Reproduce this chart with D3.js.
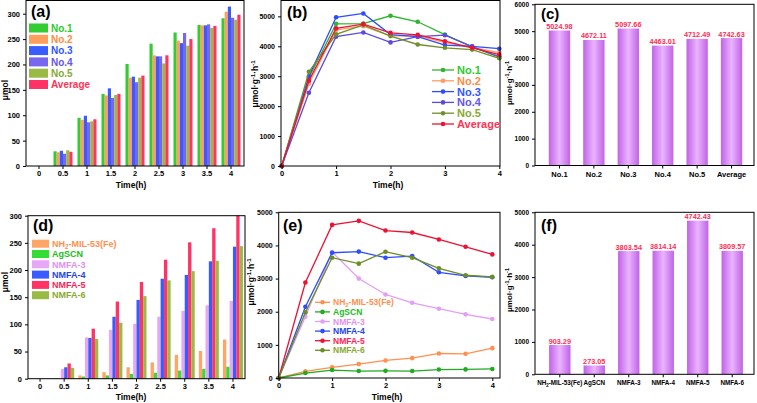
<!DOCTYPE html>
<html><head><meta charset="utf-8">
<script src="https://cdn.jsdelivr.net/npm/d3@7"></script>
<style>
body{margin:0;background:#fff}
svg{display:block}
text{font-family:"Liberation Sans",Arial,sans-serif;font-weight:bold}
</style>
</head><body>
<svg id="chart" width="757" height="403"></svg>
<script>
// ---------- DATA ----------
const times = ["0","0.5","1","1.5","2","2.5","3","3.5","4"];
const tNum = [0,0.5,1,1.5,2,2.5,3,3.5,4];

const seriesA = ["No.1","No.2","No.3","No.4","No.5","Average"];
const a_no1 = [0,29,95,142,201,241,263,278,291];
const a_no2 = [0,27,91,139,174,218,247,277,304];
const a_no3 = [0,30,99,153,176,216,242,277,314];
const a_no4 = [0,24,86,134,165,216,262,279,292];
const a_no5 = [0,31,88,140,174,202,237,272,288];
const a_avg = [0,28,92,142,178,218,250,276,298];

const b_no1 = [0,2950,4750,4760,5020,4820,4390,3980,3640];
const b_no2 = [0,2750,4550,4672,4350,4360,4120,3960,3790];
const b_no3 = [0,3000,4970,5098,4390,4320,4040,4000,3920];
const b_no4 = [0,2450,4320,4463,4130,4320,4370,3990,3650];
const b_no5 = [0,3150,4400,4712,4340,4060,3950,3890,3600];
const b_avg = [0,2850,4600,4743,4450,4380,4170,3950,3720];

const catsC = ["No.1","No.2","No.3","No.4","No.5","Average"];
const valsC = [5024.98,4672.11,5097.66,4463.01,4712.49,4742.63];
const labelsC = ["5024.98","4672.11","5097.66","4463.01","4712.49","4742.63"];

const seriesD = ["NH2-MIL-53(Fe)","AgSCN","NMFA-3","NMFA-4","NMFA-5","NMFA-6"];
const d_mil = [0,1,6,12,21,30,44,51,72];
const d_ag  = [0,0,4,6,9,11,15,18,22];
const d_n3  = [0,18,76,90,101,114,125,135,143];
const d_n4  = [0,21,75,114,145,184,191,216,243];
const d_n5  = [0,28,92,142,178,219,251,277,300];
const d_n6  = [0,20,73,103,152,181,198,217,244];

const e_mil = [0,200,320,420,530,600,740,730,900];
const e_ag  = [0,150,240,210,215,210,255,260,273];
const e_n3  = [0,1850,3800,3000,2520,2270,2090,1920,1780];
const e_n4  = [0,2150,3780,3814,3630,3680,3190,3080,3040];
const e_n5  = [0,2880,4620,4742,4450,4390,4180,3960,3730];
const e_n6  = [0,1980,3630,3450,3810,3630,3310,3100,3050];

const catsF = ["NH2-MIL-53(Fe)","AgSCN","NMFA-3","NMFA-4","NMFA-5","NMFA-6"];
const valsF = [903.29,273.05,3803.54,3814.14,4742.43,3809.57];
const labelsF = ["903.29","273.05","3803.54","3814.14","4742.43","3809.57"];

const yTicksA = [0,50,100,150,200,250,300];
const yTicksB = [0,1000,2000,3000,4000,5000];
const yTicksC = [0,1000,2000,3000,4000,5000,6000];
const xTicksLine = [0,1,2,3,4];

// colours
const barColA = ["#33cc33","#ff9f5f","#3a5cff","#7766ee","#99bb44","#ff3366"];
const txtColA = ["#2ecc2e","#ff8c45","#3355ff","#6655ee","#88aa33","#ff3355"];
const lineColB = ["#2fb52f","#ff9a66","#2b4cff","#5b4ae0","#6f8f2a","#ee1133"];
const barColD = ["#ffa566","#33dd33","#e8a6f7","#3a5cff","#ff3366","#99bb44"];
const txtColD = ["#ff9050","#22bb22","#e090f0","#2244ee","#ff2255","#88aa33"];
const lineColE = ["#ff9050","#22aa22","#e49ef5","#2b4cff","#ee1133","#6b8e23"];

// ---------- HELPERS ----------
const svg = d3.select("#chart");
const defs = svg.append("defs");
const grad = defs.append("linearGradient").attr("id","vio").attr("x1","0").attr("x2","1").attr("y1","0").attr("y2","0");
grad.append("stop").attr("offset","0%").attr("stop-color","#c163e6");
grad.append("stop").attr("offset","50%").attr("stop-color","#eab4ff");
grad.append("stop").attr("offset","100%").attr("stop-color","#c163e6");

const fmt = d3.format("d");

function styleAxis(g, fs){
  g.attr("font-family","Liberation Sans, Arial, sans-serif").attr("font-size",fs).attr("font-weight","bold");
  g.select(".domain").remove();
  g.selectAll("line").attr("stroke","#000");
  g.selectAll("text").attr("fill","#000");
}
function frame(x0,y0,x1,y1){
  svg.append("rect").attr("x",x0).attr("y",y0).attr("width",x1-x0).attr("height",y1-y0)
    .attr("fill","none").attr("stroke","#000").attr("stroke-width",1);
}
function panelTitle(t,x,y,fs){
  svg.append("text").attr("x",x).attr("y",y).attr("font-size",fs||16).text(t);
}
function yLabelRate(x,cy,fs){
  const t = svg.append("text").attr("transform",`translate(${x},${cy}) rotate(-90)`)
    .attr("text-anchor","middle").attr("font-size",fs);
  t.append("tspan").text("μmol·g");
  t.append("tspan").attr("dy",-3).attr("font-size",fs*0.7).text("-1");
  t.append("tspan").attr("dy",3).text("·h");
  t.append("tspan").attr("dy",-3).attr("font-size",fs*0.7).text("-1");
}
function yLabelPlain(x,cy,fs,txt){
  svg.append("text").attr("transform",`translate(${x},${cy}) rotate(-90)`)
    .attr("text-anchor","middle").attr("font-size",fs).text(txt);
}
function xLabel(x,y,fs){
  svg.append("text").attr("x",x).attr("y",y).attr("text-anchor","middle").attr("font-size",fs).text("Time(h)");
}
function nhText(sel, name, fs){
  if(name.startsWith("NH2")){
    sel.append("tspan").text("NH");
    sel.append("tspan").attr("dy",2).attr("font-size",fs*0.7).text("2");
    sel.append("tspan").attr("dy",-2).text(name.slice(3));
  } else sel.text(name);
}

// grouped bar panel
function groupedBars(o){
  const x = d3.scaleBand().domain(times).range([o.bx0,o.bx1]);
  const inner = d3.scaleBand().domain(o.names)
      .range([(x.bandwidth()-o.gw)/2,(x.bandwidth()+o.gw)/2]);
  const y = d3.scaleLinear().domain([0,o.ymax]).range([o.y1,o.y0]);
  const g = svg.append("g");
  o.values.forEach((vals,si)=>{
    g.selectAll(null).data(vals).join("rect")
      .attr("x",(d,i)=>x(times[i])+inner(o.names[si]))
      .attr("width",inner.bandwidth())
      .attr("y",d=>y(d)).attr("height",d=>o.y1-y(d))
      .attr("fill",o.colors[si]);
  });
  const ya = svg.append("g").attr("transform",`translate(${o.x0},0)`)
    .call(d3.axisLeft(y).tickValues(o.yticks).tickFormat(fmt).tickSize(3).tickPadding(3));
  styleAxis(ya,7.5);
  const xa = svg.append("g").attr("transform",`translate(0,${o.y1})`)
    .call(d3.axisBottom(x).tickSize(3).tickPadding(2));
  styleAxis(xa,7.5);
  frame(o.x0,o.y0,o.x1,o.y1);
  o.names.forEach((n,i)=>{
    const cy = o.ly + i*o.lstep;
    svg.append("rect").attr("x",o.lx).attr("y",cy-o.lh/2).attr("width",o.lw).attr("height",o.lh)
      .attr("fill",o.colors[i]);
    const t = svg.append("text").attr("x",o.lx+o.lw+3).attr("y",cy+o.lfs*0.36)
      .attr("font-size",o.lfs).attr("fill",o.tcolors[i]);
    nhText(t,n,o.lfs);
  });
}

// line panel
function linePanel(o){
  const x = d3.scaleLinear().domain([0,4]).range([o.px0,o.px4]);
  const y = d3.scaleLinear().domain([0,o.ymax]).range([o.y1,o.y0]);
  const line = d3.line().x((d,i)=>x(tNum[i])).y(d=>y(d));
  o.values.forEach((vals,si)=>{
    svg.append("path").datum(vals).attr("d",line).attr("fill","none")
      .attr("stroke",o.colors[si]).attr("stroke-width",1.3);
    svg.selectAll(null).data(vals).join("circle")
      .attr("cx",(d,i)=>x(tNum[i])).attr("cy",d=>y(d)).attr("r",2.3)
      .attr("fill",o.colors[si]);
  });
  const ya = svg.append("g").attr("transform",`translate(${o.x0},0)`)
    .call(d3.axisLeft(y).tickValues(o.yticks).tickFormat(fmt).tickSize(3).tickPadding(3));
  styleAxis(ya,7);
  const xa = svg.append("g").attr("transform",`translate(0,${o.y1})`)
    .call(d3.axisBottom(x).tickValues(xTicksLine).tickFormat(fmt).tickSize(3).tickPadding(2));
  styleAxis(xa,7.5);
  frame(o.x0,o.y0,o.x1,o.y1);
  o.names.forEach((n,i)=>{
    const cy = o.ly + i*o.lstep;
    svg.append("line").attr("x1",o.lx).attr("x2",o.lx+o.lw).attr("y1",cy).attr("y2",cy)
      .attr("stroke",o.colors[i]).attr("stroke-width",1.3);
    svg.append("circle").attr("cx",o.lx+o.lw/2).attr("cy",cy).attr("r",2.3).attr("fill",o.colors[i]);
    const t = svg.append("text").attr("x",o.lx+o.lw+3).attr("y",cy+o.lfs*0.36)
      .attr("font-size",o.lfs).attr("fill",o.tcolors[i]);
    nhText(t,n,o.lfs);
  });
}

// single bar panel
function catBars(o){
  const x = d3.scaleBand().domain(o.cats).range([o.bx0,o.bx1]).padding(0.38);
  const y = d3.scaleLinear().domain([0,o.ymax]).range([o.y1,o.y0]);
  svg.selectAll(null).data(o.vals).join("rect")
    .attr("x",(d,i)=>x(o.cats[i])).attr("width",x.bandwidth())
    .attr("y",d=>y(d)).attr("height",d=>o.y1-y(d)).attr("fill","url(#vio)");
  svg.selectAll(null).data(o.vals).join("text")
    .attr("x",(d,i)=>x(o.cats[i])+x.bandwidth()/2).attr("y",d=>y(d)-1.5)
    .attr("text-anchor","middle").attr("font-size",7.3).attr("fill","#ff2d55")
    .text((d,i)=>o.labels[i]);
  const ya = svg.append("g").attr("transform",`translate(${o.x0},0)`)
    .call(d3.axisLeft(y).tickValues(o.yticks).tickFormat(fmt).tickSize(3).tickPadding(3));
  styleAxis(ya,6.5);
  const xa = svg.append("g").attr("transform",`translate(0,${o.y1})`)
    .call(d3.axisBottom(x).tickSize(3).tickPadding(3));
  styleAxis(xa,o.xfs);
  xa.selectAll(".tick text").each(function(d){
    const s = d3.select(this); s.text(null); nhText(s,d,o.xfs);
  });
  frame(o.x0,o.y0,o.x1,o.y1);
}

// ---------- PANELS ----------
groupedBars({x0:26,x1:244,y0:0.5,y1:166,bx0:27,bx1:243,gw:19,ymax:326,yticks:yTicksA,
  names:seriesA,values:[a_no1,a_no2,a_no3,a_no4,a_no5,a_avg],colors:barColA,tcolors:txtColA,
  lx:29,lw:19,lh:9,ly:28,lstep:11.3,lfs:10});
panelTitle("(a)",31,17);
yLabelPlain(8,90,8.5,"μmol");
xLabel(131,188,8.5);

linePanel({x0:281,x1:500,y0:0.5,y1:166,px0:281.7,px4:499.3,ymax:5530,yticks:yTicksB,
  names:seriesA,values:[b_no1,b_no2,b_no3,b_no4,b_no5,b_avg],colors:lineColB,tcolors:txtColA,
  lx:432,lw:22,ly:70,lstep:10.8,lfs:11});
panelTitle("(b)",287,18);
yLabelRate(258,84,8.5);
xLabel(388,188,8.5);

catBars({x0:535,x1:754,y0:4.3,y1:165.5,bx0:535.7,bx1:755.3,ymax:6000,yticks:yTicksC,
  cats:catsC,vals:valsC,labels:labelsC,xfs:7.5});
panelTitle("(c)",541,18.5,15);
yLabelRate(512,83,8);

groupedBars({x0:28,x1:245,y0:215.7,y1:378.7,bx0:28,bx1:245,gw:20,ymax:300,yticks:yTicksA,
  names:seriesD,values:[d_mil,d_ag,d_n3,d_n4,d_n5,d_n6],colors:barColD,tcolors:txtColD,
  lx:32,lw:17,lh:8,ly:243.7,lstep:10.3,lfs:9});
panelTitle("(d)",33,231);
yLabelPlain(8,282,8.5,"μmol");
xLabel(131,400,8.5);

linePanel({x0:278.7,x1:500,y0:212.3,y1:378,px0:278.7,px4:492.3,ymax:5000,yticks:yTicksB,
  names:seriesD,values:[e_mil,e_ag,e_n3,e_n4,e_n5,e_n6],colors:lineColE,tcolors:txtColD,
  lx:315,lw:15,ly:302.3,lstep:9.6,lfs:8.5});
panelTitle("(e)",283,231);
yLabelRate(254,282,8.5);
xLabel(387,400,8.5);

catBars({x0:535,x1:754,y0:212.3,y1:374.3,bx0:536,bx1:756,ymax:5000,yticks:yTicksB,
  cats:catsF,vals:valsF,labels:labelsF,xfs:6.3});
panelTitle("(f)",541,231);
yLabelRate(512,290,8);
</script>
</body></html>
